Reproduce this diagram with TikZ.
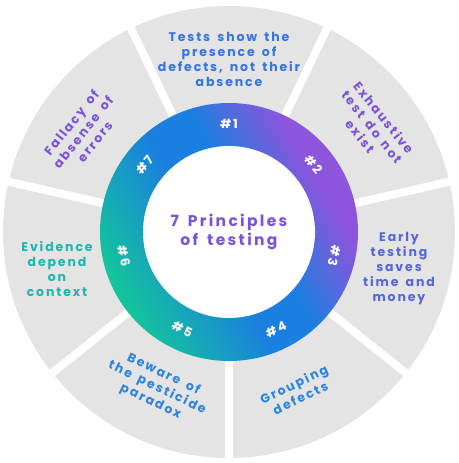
\documentclass[tikz,border=0pt]{standalone}
\usepackage{fontspec}
\setmainfont{Poppins}[LetterSpace=15, WordSpace=1.6]
\usepackage{tikz}

\definecolor{segGray}{HTML}{E4E4E4}
\definecolor{ringGreen}{HTML}{14C69A}
\definecolor{ringBlue}{HTML}{1A7FE0}
\definecolor{ringPurple}{HTML}{8C55DC}
\definecolor{txtBlue}{HTML}{3674E0}
\definecolor{txtSky}{HTML}{2A84E0}
\definecolor{txtIndigo}{HTML}{5566DC}
\definecolor{txtPurple}{HTML}{7B52D9}
\definecolor{txtTeal}{HTML}{1FB4B0}
\pgfdeclarehorizontalshading{ringshade}{100bp}{color(0bp)=(ringGreen); color(25bp)=(ringGreen); color(46bp)=(ringBlue); color(55bp)=(ringBlue); color(70bp)=(ringPurple); color(100bp)=(ringPurple)}

\tikzset{
  seglabel/.style={align=center, font=\bfseries\fontsize{12.5}{15}\selectfont},
  ringlabel/.style={white, font=\bfseries\fontsize{12.5}{14}\selectfont}
}

\begin{document}
\begin{tikzpicture}[x=1pt, y=1pt]
  \useasboundingbox (0,0) rectangle (458,463);
  \coordinate (c) at (229,231);
  % grey wheel and white gaps
  \fill[segGray] (c) circle (226);
  \foreach \a in {12.86, 64.29, 115.71, 167.14, 218.57, 270, 321.43}
    \draw[white, line width=8pt] (c) -- ++(\a:232);
  % coloured ring
  \shade[shading=ringshade, shading angle=30] (c) circle (129);
  \fill[white] (c) circle (86);
  \node[txtPurple, align=center, font=\bfseries\fontsize{15.5}{19.5}\selectfont] (title) at (c) {7 Principles\\of testing};
  \foreach \n/\a/\r in {1/90/0, 2/38.57/-51.43, 3/-12.86/-102.86, 4/-64.29/25.71, 5/-115.71/-25.71, 6/-167.14/-77.14, 7/141.43/51.43}
    \node[ringlabel, rotate=\r] (n\n) at ([shift={(\a:108)}]c) {\#\n};
  % principles
  \node[seglabel, txtBlue] (p1) at (229,404) {Tests show the\\presence of\\defects, not their\\absence};
  \node[seglabel, txtPurple, rotate=-51.43] (p2) at (372,336) {Exhaustive\\test do not\\exist};
  \node[seglabel, txtIndigo] (p3) at (399,194) {Early\\testing\\saves\\time and\\money};
  \node[seglabel, txtSky, rotate=25.71] (p4) at (297,72) {Grouping\\defects};
  \node[seglabel, txtSky, rotate=-25.71] (p5) at (157,75) {Beware of\\the pesticide\\paradox};
  \node[seglabel, txtTeal] (p6) at (57,194) {Evidence\\depend\\on\\context};
  \node[seglabel, txtPurple, rotate=51.43] (p7) at (83,331) {Fallacy of\\absense of\\errors};
\end{tikzpicture}
\end{document}
